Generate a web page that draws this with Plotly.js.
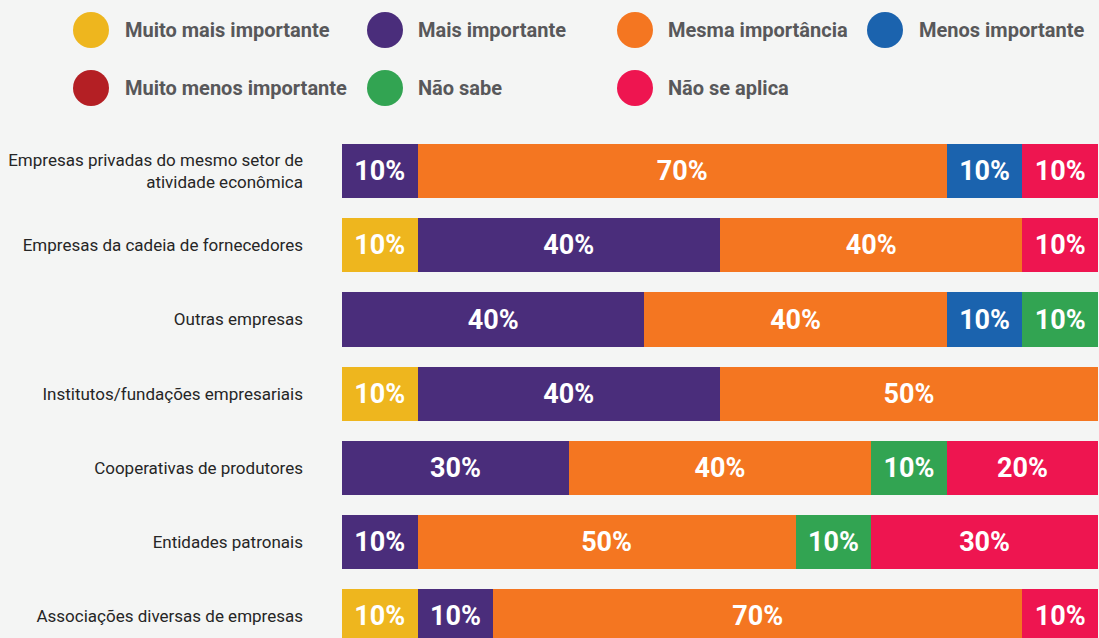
<!DOCTYPE html>
<html>
<head>
<meta charset="utf-8">
<script src="https://cdn.plot.ly/plotly-3.0.1.min.js"></script>
<style>
html,body{margin:0;padding:0;background:#f4f5f4;}
#chart{width:1099px;height:638px;}
</style>
</head>
<body>
<div id="chart"></div>
<script>
// ---- data ----
const categories = [
  "Empresas privadas do mesmo setor de<br>atividade econômica",
  "Empresas da cadeia de fornecedores",
  "Outras empresas",
  "Institutos/fundações empresariais",
  "Cooperativas de produtores",
  "Entidades patronais",
  "Associações diversas de empresas"
];
const seriesNames = ["Muito mais importante","Mais importante","Mesma importância","Menos importante","Muito menos importante","Não sabe","Não se aplica"];
const muitoMais    = [null, 10, null, 10, null, null, 10];
const mais         = [10, 40, 40, 40, 30, 10, 10];
const mesma        = [70, 40, 40, 50, 40, 50, 70];
const menos        = [10, null, 10, null, null, null, null];
const muitoMenos   = [null, null, null, null, null, null, null];
const naoSabe      = [null, null, 10, null, 10, 10, null];
const naoSeAplica  = [10, 10, null, null, 20, 30, 10];
const seriesValues = [muitoMais, mais, mesma, menos, muitoMenos, naoSabe, naoSeAplica];
const colors = ["#EEB61E","#4A2D7B","#F47621","#1B63AE","#B41F24","#32A452","#EE1550"];

// ---- layout constants ----
const W = 1099, H = 638;
const M = {l:342, r:1, t:134, b:0};
const plotW = W - M.l - M.r, plotH = H - M.t - M.b;
const pitch = 74.2;
const FONT = 'Roboto, "Liberation Sans", sans-serif';

const traces = seriesNames.map((name, i) => ({
  type: 'bar',
  orientation: 'h',
  name: name,
  y: categories,
  x: seriesValues[i],
  marker: {color: colors[i], line: {width: 0}},
  text: seriesValues[i].map(v => v == null ? '' : v + '%'),
  texttemplate: '%{text}',
  textposition: 'inside',
  insidetextanchor: 'middle',
  textangle: 0,
  constraintext: 'none',
  textfont: {family: FONT, size: 27, color: '#ffffff', weight: 700},
  showlegend: false,
  hoverinfo: 'name+x'
}));

// legend drawn as shapes + annotations
const px2x = px => (px - M.l) / plotW;
const py2y = py => 1 - (py - M.t) / plotH;
const legendPos = [
  [91, 30, 124], [385, 30, 417], [635, 30, 667], [885, 30, 918],
  [91, 88, 124], [385, 88, 417], [635, 88, 667]
];
const shapes = [], annotations = [];
seriesNames.forEach((name, i) => {
  const [cx, cy, tx] = legendPos[i];
  shapes.push({
    type: 'circle', xref: 'paper', yref: 'paper',
    xsizemode: 'pixel', ysizemode: 'pixel',
    xanchor: px2x(cx), yanchor: py2y(cy),
    x0: -18, x1: 18, y0: -18, y1: 18,
    fillcolor: colors[i], line: {width: 0}
  });
  annotations.push({
    xref: 'paper', yref: 'paper', x: px2x(tx), y: py2y(cy),
    xanchor: 'left', yanchor: 'middle', showarrow: false,
    borderpad: 0,
    text: name,
    font: {family: FONT, size: 20, color: '#58585a', weight: 700}
  });
});

const span = plotH / pitch;
const layout = {
  width: W, height: H,
  margin: M,
  paper_bgcolor: '#f4f5f4',
  plot_bgcolor: '#f4f5f4',
  barmode: 'stack',
  bargap: 0.272,
  xaxis: {range: [0, 100], visible: false, fixedrange: true},
  yaxis: {
    type: 'category',
    range: [-0.5 + span, -0.5],
    showgrid: false, zeroline: false, showline: false, ticks: '',
    ticklabelstandoff: 38,
    tickfont: {family: FONT, size: 17, color: '#262626'},
    fixedrange: true
  },
  shapes: shapes,
  annotations: annotations,
  showlegend: false
};

Plotly.newPlot('chart', traces, layout, {displayModeBar: false, staticPlot: true});
</script>
</body>
</html>
